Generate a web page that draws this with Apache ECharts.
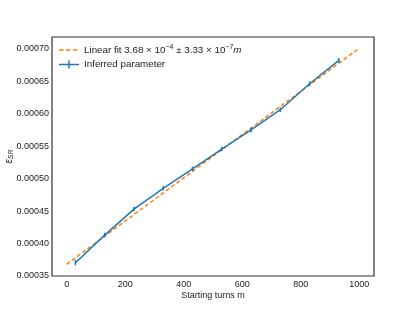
<!DOCTYPE html>
<html>
<head>
<meta charset="utf-8">
<script src="https://cdn.jsdelivr.net/npm/echarts@6/dist/echarts.min.js"></script>
<style>html,body{margin:0;padding:0;background:#fff}#c{width:415px;height:311px}</style>
</head>
<body>
<div id="c"></div>
<script>
// Data
var turns = [30, 130, 230, 330, 430, 530, 630, 730, 830, 930];
var inferred = [0.0003705, 0.000413, 0.000453, 0.000485, 0.000515, 0.0005455, 0.000575, 0.000606, 0.000646, 0.000682];
var errors = [0.000004, 0.0000035, 0.0000035, 0.0000035, 0.0000035, 0.0000035, 0.0000035, 0.0000035, 0.0000035, 0.0000035];
var fitIntercept = 3.68e-4;
var fitSlope = 3.33e-7;
var fitRange = [0, 1000];
var xTicks = [0, 200, 400, 600, 800, 1000];
var yTicks = [0.00035, 0.00040, 0.00045, 0.00050, 0.00055, 0.00060, 0.00065, 0.00070];

var FONT = '"Liberation Sans", Arial, sans-serif';
var BLUE = '#1f77b4', ORANGE = '#ff7f0e';

var fitData = fitRange.map(function (m) { return [m, fitIntercept + fitSlope * m]; });
var dataPts = turns.map(function (m, i) { return [m, inferred[i]]; });
var errData = turns.map(function (m, i) { return [m, inferred[i] - errors[i], inferred[i] + errors[i]]; });

var chart = echarts.init(document.getElementById('c'));
chart.setOption({
  animation: false,
  backgroundColor: '#fff',
  grid: { left: 52, right: 41, top: 37, bottom: 35, show: true, borderColor: '#333', borderWidth: 1.2,
    backgroundColor: 'transparent', containLabel: false, outerBoundsMode: 'none' },
  legend: {
    orient: 'vertical', left: 59, top: 44, padding: 0, itemWidth: 20, itemHeight: 8, itemGap: 4.5,
    textStyle: { fontFamily: FONT, fontSize: 9.8, color: '#222',
      rich: {
        t: { fontFamily: FONT, fontSize: 9.8, color: '#222' },
        s: { fontFamily: FONT, fontSize: 7, color: '#222', padding: [0, 0, 5, 0] },
        i: { fontFamily: FONT, fontSize: 9.8, color: '#222', fontStyle: 'italic' }
      }
    },
    formatter: function (name) {
      if (name === 'fit') return '{t|Linear fit 3.68 × 10}{s|−4}{t| ± 3.33 × 10}{s|−7}{i|m}';
      return '{t|Inferred parameter}';
    },
    data: [
      { name: 'fit', icon: 'path://M0,3.25h4.5v1.5h-4.5z M7,3.25h4.5v1.5h-4.5z M14,3.25h4.5v1.5h-4.5z M20,3.25h0v0h0z M0,0h0v8h0z', itemStyle: { color: ORANGE } },
      { name: 'Inferred parameter', icon: 'path://M0,3.25h20v1.5h-20z M9.25,0h1.5v8h-1.5z', itemStyle: { color: BLUE } }
    ]
  },
  xAxis: {
    type: 'value', min: -50, max: 1050, interval: 50,
    name: 'Starting turns m', nameLocation: 'middle', nameGap: 15, nameMoveOverlap: false,
    nameTextStyle: { fontFamily: FONT, fontSize: 9, color: '#222', verticalAlign: 'top' },
    axisLine: { show: false }, axisTick: { show: false }, splitLine: { show: false },
    axisLabel: { fontFamily: FONT, fontSize: 9, color: '#222', margin: 4,
      formatter: function (v) {
        for (var k = 0; k < xTicks.length; k++) if (Math.abs(v - xTicks[k]) < 1e-6) return String(xTicks[k]);
        return '';
      } }
  },
  yAxis: {
    type: 'value', min: 0.00035, max: 0.000718, interval: 0.00005,
    name: '{e|ε}{sub|SR}', nameLocation: 'middle', nameGap: 37, nameMoveOverlap: false,
    nameTextStyle: { fontFamily: FONT, color: '#222',
      rich: {
        e: { fontFamily: FONT, fontSize: 10, color: '#222', fontStyle: 'italic' },
        sub: { fontFamily: FONT, fontSize: 7, color: '#222', fontStyle: 'italic', padding: [4, 0, 0, 0] }
      } },
    axisLine: { show: false }, axisTick: { show: false }, splitLine: { show: false },
    axisLabel: { fontFamily: FONT, fontSize: 9, color: '#222', margin: 3,
      formatter: function (v) {
        for (var k = 0; k < yTicks.length; k++) if (Math.abs(v - yTicks[k]) < 1e-9) return yTicks[k].toFixed(5);
        return '';
      } }
  },
  series: [
    {
      name: 'fit', type: 'line', data: fitData, symbol: 'none', z: 3,
      lineStyle: { color: ORANGE, width: 1.5, type: [4, 2.5] }, itemStyle: { color: ORANGE }
    },
    {
      name: 'Inferred parameter', type: 'line', data: dataPts, symbol: 'none', z: 4,
      lineStyle: { color: BLUE, width: 1.5 }, itemStyle: { color: BLUE }
    },
    {
      name: 'Inferred parameter', type: 'custom', data: errData, z: 5,
      renderItem: function (params, api) {
        var lo = api.coord([api.value(0), api.value(1)]);
        var hi = api.coord([api.value(0), api.value(2)]);
        return { type: 'line', shape: { x1: lo[0], y1: lo[1], x2: hi[0], y2: hi[1] }, style: { stroke: BLUE, lineWidth: 1.5 } };
      },
      encode: { x: 0, y: [1, 2] }
    }
  ]
});
</script>
</body>
</html>
